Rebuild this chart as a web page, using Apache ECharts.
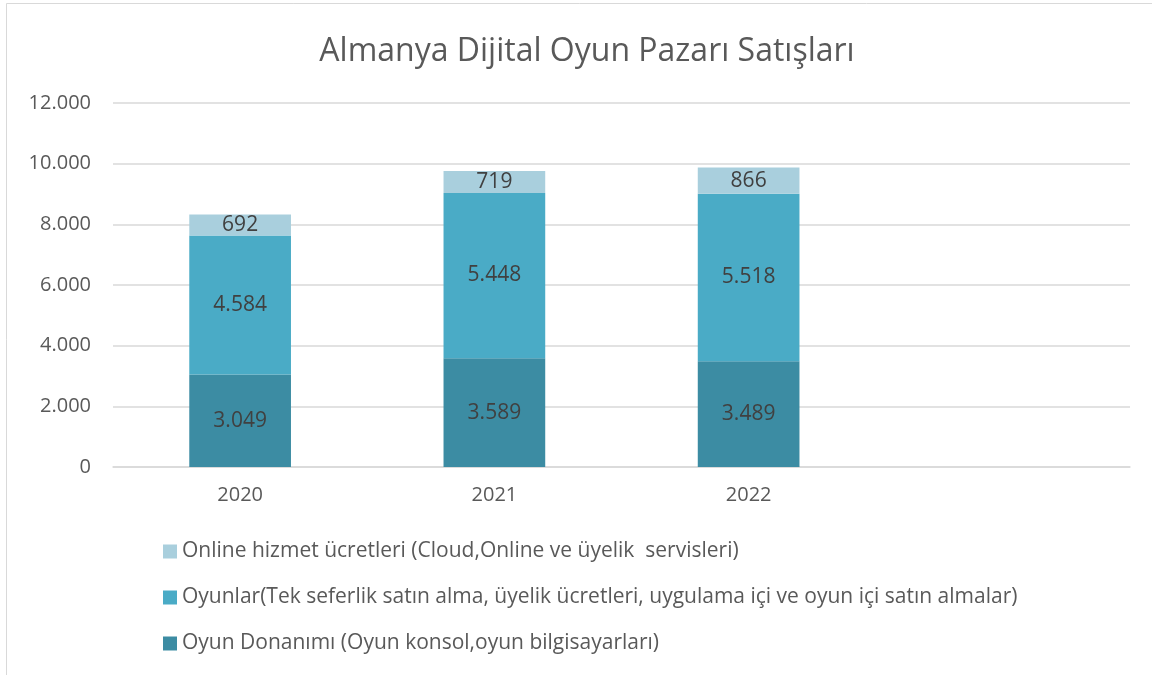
<!DOCTYPE html>
<html>
<head>
<meta charset="utf-8">
<script src="https://cdn.jsdelivr.net/npm/echarts@6/dist/echarts.min.js"></script>
<style>
  html, body { margin: 0; padding: 0; background: #fff; }
  #main { width: 1152px; height: 675px; }
</style>
</head>
<body>
<div id="main"></div>
<script>
var years = ["2020", "2021", "2022", ""];
var donanim = [3049, 3589, 3489, null];
var oyunlar = [4584, 5448, 5518, null];
var online = [692, 719, 866, null];

var nameDonanim = "Oyun Donanımı (Oyun konsol,oyun bilgisayarları)";
var nameOyunlar = "Oyunlar(Tek seferlik satın alma, üyelik ücretleri, uygulama içi ve oyun içi satın almalar)";
var nameOnline = "Online hizmet ücretleri (Cloud,Online ve üyelik  servisleri)";

var myChart = echarts.init(document.getElementById("main"));
var font = "'Open Sans', sans-serif";

function fmt(v) {
    return String(v).replace(/\B(?=(\d{3})+(?!\d))/g, ".");
}

var barLabel = {
    show: true,
    position: "inside",
    color: "#404040",
    fontSize: 21,
    fontFamily: font,
    formatter: function (p) { return fmt(p.value); },
};

var option = {
    backgroundColor: "#fff",
    animation: false,
    textStyle: { fontFamily: font },
    graphic: [{
        type: "rect",
        shape: { x: 6.5, y: 3.5, width: 1160, height: 700 },
        style: { fill: null, stroke: "#d9d9d9", lineWidth: 1 },
        silent: true,
    }],
    title: {
        text: "Almanya Dijital Oyun Pazarı Satışları",
        left: 582,
        textAlign: "center",
        top: 31,
        textStyle: { fontSize: 32, fontWeight: "normal", color: "#595959", fontFamily: font },
    },
    legend: {
        orient: "vertical",
        left: 158,
        top: 536,
        itemGap: 25,
        itemWidth: 14,
        itemHeight: 14,
        icon: "rect",
        data: [nameOnline, nameOyunlar, nameDonanim],
        textStyle: { fontSize: 21, color: "#595959", fontFamily: font },
    },
    grid: { left: 113, right: 22, top: 103, bottom: 208, containLabel: false },
    xAxis: {
        type: "category",
        data: years,
        axisTick: { show: false },
        axisLine: { lineStyle: { color: "#d9d9d9", width: 1.5 } },
        axisLabel: { color: "#595959", fontSize: 20, margin: 18, fontFamily: font },
    },
    yAxis: {
        type: "value",
        min: 0,
        max: 12000,
        interval: 2000,
        axisLine: { show: false },
        axisTick: { show: false },
        splitLine: { lineStyle: { color: "#d9d9d9", width: 1.5 } },
        axisLabel: { color: "#595959", fontSize: 20, margin: 22, fontFamily: font, formatter: fmt },
    },
    series: [
        {
            name: nameDonanim, type: "bar", stack: "s", barWidth: "40%",
            itemStyle: { color: "#3c8ca3" }, label: barLabel, data: donanim,
        },
        {
            name: nameOyunlar, type: "bar", stack: "s", barWidth: "40%",
            itemStyle: { color: "#4aabc6" }, label: barLabel, data: oyunlar,
        },
        {
            name: nameOnline, type: "bar", stack: "s", barWidth: "40%",
            itemStyle: { color: "#a9cfdd" }, label: barLabel, data: online,
        },
    ],
};
option && myChart.setOption(option);
</script>
</body>
</html>
